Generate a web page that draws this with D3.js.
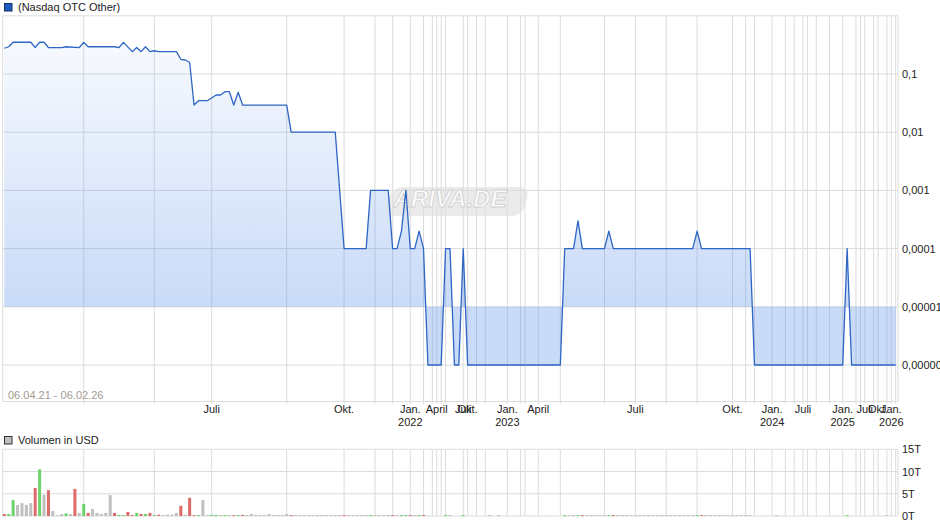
<!DOCTYPE html>
<html>
<head>
<meta charset="utf-8">
<script src="https://cdn.jsdelivr.net/npm/d3@7/dist/d3.min.js"></script>
<style>
  html, body { margin: 0; padding: 0; background: #fff; }
  svg { display: block; font-family: "Liberation Sans", Arial, sans-serif; }
</style>
</head>
<body>
<svg id="chart" width="940" height="526"></svg>
<script>
// ---------- DATA ----------
const sessionCount = 203; // trading sessions 06.04.21 - 06.02.26 (evenly spaced)
const priceSession = [0,1,2,6,7,8,9,10,13,14,17,18,19,25,26,27,29,30,31,32,33,34,35,39,40,41,42,43,44,46,48,49,50,51,52,53,54,64,65,75,77,82,83,87,88,89,90,91,92,93,94,95,96,99,100,101,102,103,104,105,126,127,129,130,131,136,137,138,156,157,158,169,170,190,191,192,202];
const priceClose = [0.277,0.294,0.351,0.351,0.285,0.351,0.351,0.285,0.285,0.294,0.285,0.35,0.294,0.294,0.285,0.35,0.242,0.285,0.242,0.294,0.242,0.251,0.242,0.242,0.179,0.174,0.159,0.0293,0.0348,0.0348,0.0436,0.0436,0.0497,0.0497,0.0293,0.0485,0.0293,0.0293,0.01,0.01,0.0001,0.0001,0.001,0.001,0.0001,0.0001,0.0002,0.001,0.0001,0.0001,0.0002,0.0001,0.000001,0.000001,0.0001,0.0001,0.000001,0.000001,0.0001,0.000001,0.000001,0.0001,0.0001,0.0003,0.0001,0.0001,0.0002,0.0001,0.0001,0.0002,0.0001,0.0001,0.000001,0.000001,0.0001,0.000001,0.000001];

// volume in trillions (T), one per session
const volume = [
  0.45,0.45,3.6,2.5,2.9,2.5,2.9,6.3,10.5,4.8,
  5.8,1.1,0.2,0.45,0.6,0.45,6.1,0.7,2.7,0.7,
  1.6,0.7,0.45,0.7,4.7,0.7,0.25,0.2,0.9,0.2,
  0.7,0.45,0.45,0.7,0.2,0.3,0.2,0.3,0.3,0.7,
  2.3,0.3,4.1,0.2,0.2,3.6,0.2,0.25,0.25,0.2,
  0.2,0.2,0.2,0.2,0.25,0.2,0.45,0.25,0.2,0.2,
  0.45,0.2,0.2,0.2,0.45,0.2,0.2,0.2,0.2,0.2,
  0.2,0.2,0.2,0.2,0.2,0.2,0.2,0.2,0.2,0.2,
  0.2,0.2,0.2,0.2,0.2,0.2,0.2,0.2,0.2,0.2,
  0.2,0.2,0.2,0.2,0.2,0.2,0,0,0,0,
  0.2,0.2,0,0,0.2,0,0,0,0,0,
  0.2,0,0.2,0,0,0,0,0,0,0,
  0,0,0,0,0,0,0,0.2,0.2,0.2,
  0.2,0.2,0.2,0.2,0.2,0.2,0.2,0.2,0.2,0.2,
  0.2,0.2,0.2,0.2,0.2,0.2,0.2,0.2,0.2,0.2,
  0.2,0.2,0.2,0.2,0.2,0.2,0.2,0.2,0.2,0.2,
  0.2,0.2,0.2,0.2,0.2,0.2,0.2,0.2,0.2,0.2,
  0,0,0,0,0,0.2,0,0,0,0,
  0,0,0,0,0,0,0,0,0,0,
  0,0.2,0,0,0,0,0,0,0,0,
  0.2,0,0
];
// session direction: g = up, r = down, n = unchanged
const direction = (
  "rggnnnnrgn" + "rnnngnrngr" + "nnnnnrggrr" + "grgrgrnnnn" + "rnrrgnnggn" +
  "gnrgrnnnnn" + "nnnnnrnnnn" + "nnnnnnnrnn" + "nnngnnnnrn" + "ggrngrrnnn" +
  "gnrngrnnnn" + "nnnnnnnnnn" + "nnnnnnngnn" + "grnnnnngrn" + "nnnnnnnnnn" +
  "nnnnnnngrn" + "nnnnnnnnnn" + "rnnnnnnnnn" + "nnnnnnnnnn" + "ngrnnnnnnn" + "nnn"
).split("");

// month gridlines (first session of each month)
const monthSessions = [18,34,47,64,77,84,88,92,95,97,98,99,100,104,105,107,109,114,117,118,121,126,136,143,150,157,165,168,170,174,177,179,181,182,184,187,190,193,194,195,197,198,200,201,202];
const monthLabelSessions = [47,77,92,98,104,105,114,121,143,165,174,181,190,195,198,201];
const monthLabels = ["Juli","Okt.","Jan.","April","Juli","Okt.","Jan.","April","Juli","Okt.","Jan.","Juli","Jan.","Juli","Okt.","Jan."];
const yearLabels = ["","","2022","","","","2023","","","","2024","","2025","","","2026"];

const priceTicks = [0.1,0.01,0.001,0.0001,0.00001,0.000001];
const priceTickLabels = ["0,1","0,01","0,001","0,0001","0,00001","0,000001"];
const priceGrid = [1,0.1,0.01,0.001,0.0001,0.00001,0.000001];
const volumeTicks = [0,5,10,15];
const volumeTickLabels = ["0T","5T","10T","15T"];

const seriesName = "(Nasdaq OTC Other)";
const volumeName = "Volumen in USD";
const rangeText = "06.04.21 - 06.02.26";
const fillBase = 0.00001;

// ---------- CHART ----------
const svg = d3.select("#chart");
const x = d3.scaleLinear().domain([0, sessionCount - 1]).range([4.3, 895.7]);
const y = d3.scaleLog().domain([2.36e-7, 1]).range([401.5, 15.8]);
const yv = d3.scaleLinear().domain([0, 15]).range([516, 449.3]);

const gridColor = "#dcdcdc";
const defs = svg.append("defs");
const grad = defs.append("linearGradient").attr("id", "areaGrad")
  .attr("gradientUnits", "userSpaceOnUse").attr("x1", 0).attr("x2", 0)
  .attr("y1", y(1)).attr("y2", y(fillBase));
grad.append("stop").attr("offset", 0).attr("stop-color", "#4a86e8").attr("stop-opacity", 0.02);
grad.append("stop").attr("offset", 1).attr("stop-color", "#4a86e8").attr("stop-opacity", 0.30);

// --- main panel grid ---
const main = svg.append("g");
main.selectAll("line.hg").data(priceGrid).join("line")
  .attr("x1", 2.7).attr("x2", 898).attr("y1", d => y(d)).attr("y2", d => y(d))
  .attr("stroke", gridColor).attr("stroke-width", 1);
main.append("line").attr("x1", 2.7).attr("x2", 898).attr("y1", 401.5).attr("y2", 401.5)
  .attr("stroke", gridColor);
main.selectAll("line.vg").data(monthSessions).join("line")
  .attr("x1", d => x(d)).attr("x2", d => x(d)).attr("y1", y(1)).attr("y2", 404)
  .attr("stroke", gridColor);
[2.7, 898].forEach(px => main.append("line").attr("x1", px).attr("x2", px)
  .attr("y1", y(1)).attr("y2", 401.5).attr("stroke", gridColor));

// --- area + line ---
const pts = priceSession.map((s, i) => [s, priceClose[i]]);
main.append("path").datum(pts)
  .attr("d", d3.area().x(d => x(d[0])).y0(y(fillBase)).y1(d => y(d[1])))
  .attr("fill", "url(#areaGrad)");

// watermark
const wm = main.append("g").attr("transform", "translate(456,202)");
wm.append("rect").attr("x", -68).attr("y", -15).attr("width", 138).attr("height", 29)
  .attr("rx", 10).attr("transform", "skewX(-14)")
  .attr("fill", "#dedede").attr("opacity", 0.6);
wm.append("text").attr("text-anchor", "middle").attr("x", -6).attr("y", 5)
  .attr("font-size", 24).attr("font-style", "italic").attr("font-weight", "bold")
  .attr("fill", "#ffffff").attr("fill-opacity", 0.85)
  .attr("stroke", "#d0d0d0").attr("stroke-width", 0.8)
  .text("ARIVA.DE");

main.append("path").datum(pts)
  .attr("d", d3.line().x(d => x(d[0])).y(d => y(d[1])))
  .attr("fill", "none").attr("stroke", "#2d66c4").attr("stroke-width", 1.3)
  .attr("stroke-linejoin", "round");

// y labels
main.selectAll("text.yl").data(priceTicks).join("text")
  .attr("x", 902).attr("y", d => y(d) + 4)
  .attr("font-size", 11).attr("fill", "#222")
  .text((d, i) => priceTickLabels[i]);

// x labels
main.selectAll("text.xl").data(monthLabelSessions).join("text")
  .attr("x", d => x(d)).attr("y", 413).attr("text-anchor", "middle")
  .attr("font-size", 11).attr("fill", "#222")
  .text((d, i) => monthLabels[i]);
main.selectAll("text.yr").data(monthLabelSessions).join("text")
  .attr("x", d => x(d)).attr("y", 426).attr("text-anchor", "middle")
  .attr("font-size", 11).attr("fill", "#222")
  .text((d, i) => yearLabels[i]);

main.append("text").attr("x", 8).attr("y", 399).attr("font-size", 11)
  .attr("fill", "#a39a90").text(rangeText);

// legend
svg.append("rect").attr("x", 4.5).attr("y", 3.5).attr("width", 7.5).attr("height", 7.5)
  .attr("fill", "#1d5bc0").attr("stroke", "#12305f");
svg.append("text").attr("x", 18).attr("y", 11).attr("font-size", 11).attr("fill", "#222").text(seriesName);

// --- volume panel ---
const vol = svg.append("g");
vol.append("rect").attr("x", 4.5).attr("y", 436.5).attr("width", 7.5).attr("height", 7.5)
  .attr("fill", "#c0c0c0").attr("stroke", "#333");
vol.append("text").attr("x", 18).attr("y", 444).attr("font-size", 11).attr("fill", "#222").text(volumeName);

vol.selectAll("line.hv").data(volumeTicks).join("line")
  .attr("x1", 2.7).attr("x2", 898).attr("y1", d => yv(d)).attr("y2", d => yv(d))
  .attr("stroke", gridColor);
vol.selectAll("line.vv").data(monthSessions).join("line")
  .attr("x1", d => x(d)).attr("x2", d => x(d)).attr("y1", yv(15)).attr("y2", yv(0))
  .attr("stroke", gridColor);
[2.7, 898].forEach(px => vol.append("line").attr("x1", px).attr("x2", px)
  .attr("y1", yv(15)).attr("y2", yv(0)).attr("stroke", gridColor));

const barColor = { g: "#6cd36c", r: "#dc6a6a", n: "#c0c0c0" };
vol.selectAll("rect.bar").data(volume.map((v, i) => ({ i, v, d: direction[i] })).filter(d => d.v > 0))
  .join("rect")
  .attr("x", d => x(d.i) - 1.5).attr("width", 3)
  .attr("y", d => yv(d.v)).attr("height", d => yv(0) - yv(d.v))
  .attr("fill", d => barColor[d.d]);

vol.selectAll("text.vl").data(volumeTicks).join("text")
  .attr("x", 902).attr("y", d => yv(d) + 4)
  .attr("font-size", 11).attr("fill", "#222")
  .text((d, i) => volumeTickLabels[i]);
</script>
</body>
</html>
